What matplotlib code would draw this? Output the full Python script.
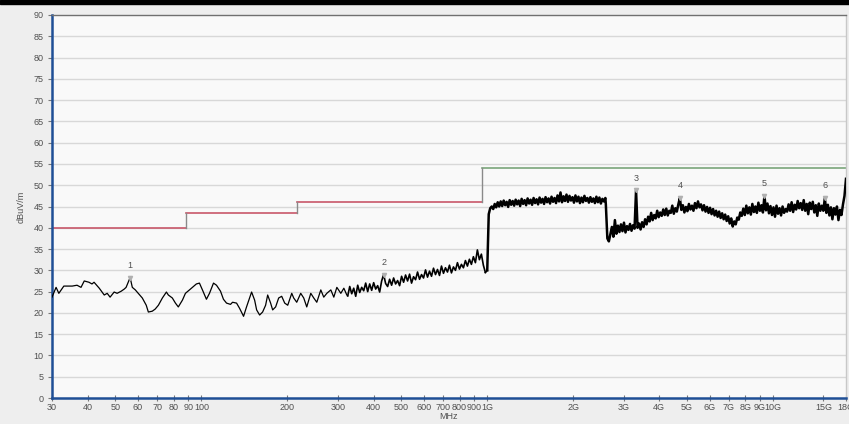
import numpy as np
import matplotlib
matplotlib.use('agg')
import matplotlib.pyplot as plt

plt.rcParams['font.family'] = ['Liberation Sans', 'DejaVu Sans']

# measured trace, 30 MHz - 320 MHz (read point by point)
low_freq = [30, 31, 31.7, 33, 35.3, 36.7, 37.9, 38.9, 40.4, 41.4,
            42.1, 43.9, 45.7, 46.8, 47.9, 49.5, 50.7, 52.4, 53.7, 54.5,
            56.3, 57.3, 58.7, 60.1, 62.1, 64.1, 65.2, 67.3, 68.9, 70.7,
            73, 75.4, 76.6, 79.1, 81.1, 83, 85.8, 87.9, 90.8, 93,
            96, 98.4, 100.8, 104.1, 106.7, 110.2, 112.9, 116.6, 119.4, 122.4,
            126.4, 128.5, 132.7, 135.9, 140.4, 143.8, 149.8, 153.5, 156, 159.8,
            163.7, 167.7, 170.5, 174.6, 177.5, 181.8, 186.3, 190.9, 195.6, 200.4,
            207, 210.3, 215.5, 222.5, 228, 233.6, 241.3, 247.2, 253.3, 261.6,
            267.9, 274.6, 283.6, 290.5, 297.7, 307.4, 315, 322.6]
low_level = [23.7, 26, 24.6, 26.3, 26.3, 26.5, 26, 27.5, 27.2, 26.8,
             27.2, 25.8, 24.2, 24.6, 23.7, 24.9, 24.6, 25.1, 25.6, 26,
             28.3, 26, 25.4, 24.6, 23.5, 21.8, 20.2, 20.4, 20.9, 21.8,
             23.5, 24.9, 24.2, 23.5, 22.3, 21.4, 23, 24.6, 25.4, 26,
             26.8, 27, 25.4, 23.2, 24.6, 27, 26.5, 25.1, 23.2, 22.3,
             22, 22.5, 22.3, 21.1, 19.2, 21.4, 24.9, 23, 20.7, 19.5,
             20.2, 21.8, 24.2, 22.3, 20.7, 21.4, 23.5, 23.9, 22.3, 21.8,
             24.6, 23.5, 22.5, 24.6, 23.5, 21.4, 24.6, 23.5, 22.5, 25.4,
             23.7, 24.6, 25.4, 23.7, 26, 24.6, 25.8, 24.2]

# 325 MHz - 985 MHz, sweep points
mid_range = (325, 985)
mid_level = [24.0, 26.2, 24.5, 25.8, 23.9, 26.5, 24.8, 26.0, 25.2, 27.0,
             25.0, 26.8, 25.3, 27.1, 25.6, 26.4, 24.9, 27.5, 29.0, 26.9,
             26.2, 27.9, 26.5, 28.2, 26.8, 27.6, 26.4, 28.6, 27.2, 28.9,
             27.5, 29.1, 27.0, 28.5, 27.8, 29.6, 27.9, 29.0, 28.2, 30.1,
             28.4, 29.8, 28.6, 30.5, 29.0, 30.2, 28.8, 31.0, 29.3, 30.6,
             29.6, 31.2, 29.4, 30.8, 30.0, 31.8, 30.3, 31.4, 30.6, 32.3,
             31.0, 32.6, 31.4, 33.2, 31.8, 34.8, 32.5, 33.8, 31.2, 29.5]

# 1 GHz - 2.59 GHz
high_range = (1000, 2590)
high_level = [30.0, 43.2, 44.6, 45.0, 44.4, 45.6, 44.8, 46.0, 45.0, 46.2,
              45.1, 46.4, 45.3, 46.1, 44.9, 46.5, 45.4, 46.3, 45.2, 46.6,
              45.5, 46.4, 45.1, 46.8, 45.6, 46.5, 45.3, 46.9, 45.7, 46.6,
              45.4, 47.0, 45.8, 46.7, 45.5, 47.1, 45.9, 46.8, 45.6, 47.2,
              46.0, 46.9, 45.7, 47.3, 46.1, 47.0, 45.8, 47.6, 46.2, 48.3,
              46.0, 47.4, 46.3, 47.8, 46.1, 47.5, 46.4, 47.2, 45.9, 47.6,
              46.2, 47.3, 45.8, 47.1, 46.0, 47.5, 46.3, 47.0, 45.9, 47.2,
              46.1, 46.9, 45.8, 47.3, 46.0, 47.1, 45.7, 46.8, 46.2, 47.0]

# 2.6 GHz - 18 GHz
top_range = (2600, 18000)
top_level = [45.5, 37.5, 36.8, 38.5, 40.2, 37.9, 41.8, 38.6, 40.5, 39.0,
             40.8, 39.2, 41.2, 38.9, 40.4, 39.5, 40.9, 39.3, 40.6, 39.8,
             48.8, 40.0, 41.0, 39.6, 41.3, 40.2, 42.0, 40.8, 42.6, 41.5,
             43.5, 41.8, 43.0, 42.2, 44.0, 42.5, 43.6, 42.8, 44.3, 43.0,
             44.5, 42.9, 44.0, 43.5, 45.2, 43.3, 44.6, 43.8, 45.5, 47.0,
             44.2, 45.3, 43.6, 44.9, 43.9, 45.6, 44.3, 45.2, 44.0, 45.8,
             44.6, 46.2, 44.8, 45.5, 44.1, 45.3, 43.8, 44.9, 43.5, 44.7,
             43.2, 44.4, 42.9, 44.0, 42.6, 43.8, 42.3, 43.4, 42.0, 43.1,
             41.6, 42.7, 41.0, 42.2, 40.3, 41.5, 40.8, 42.4, 41.9, 43.6,
             42.8, 44.5, 43.0, 45.2, 43.4, 44.8, 43.1, 45.6, 43.7, 45.0,
             43.5, 45.9, 44.0, 45.3, 43.6, 47.5, 44.1, 45.7, 43.4, 45.1,
             43.0, 44.8, 42.6, 45.2, 43.3, 44.6, 42.9, 45.0, 43.5, 44.4,
             43.8, 45.5, 44.0, 46.0, 43.7, 45.4, 44.3, 46.3, 44.6, 45.8,
             44.2, 46.5, 44.0, 45.6, 43.2, 45.9, 44.4, 46.1, 43.6, 45.3,
             42.8, 45.7, 44.0, 45.2, 44.0, 47.0, 43.5, 45.4, 42.9, 44.8,
             42.0, 44.6, 43.1, 45.0, 41.8, 44.2, 43.0, 45.5, 47.5, 51.5]

# limit line (FCC class B, 3 m)
limit_edges = [30, 88, 216, 960, 18000]
limit_values = [40, 43.5, 46, 54]

# peak markers
marker_labels = ['1', '2', '3', '4', '5', '6']
marker_freq = [56.3, 434, 3317, 4720, 9331, 15182]
marker_level = [28.3, 29.0, 48.8, 47.0, 47.5, 47.0]

tick_freq = [30, 40, 50, 60, 70, 80, 90, 100, 200, 300, 400, 500, 600, 700, 800, 900,
             1000, 2000, 3000, 4000, 5000, 6000, 7000, 8000, 9000, 10000, 15000, 18000]
tick_text = ['30', '40', '50', '60', '70', '80', '90', '100', '200', '300', '400', '500',
             '600', '700', '800', '900', '1G', '2G', '3G', '4G', '5G', '6G', '7G', '8G',
             '9G', '10G', '15G', '18G']

BLUE = '#1f4f96'
RED = '#c8586a'
GREEN = '#7aa57a'
TXT = '#505050'

mid_freq = np.geomspace(*mid_range, len(mid_level))
high_freq = np.geomspace(*high_range, len(high_level))
top_freq = np.geomspace(*top_range, len(top_level))

fig = plt.figure(figsize=(8.49, 4.24), dpi=100, facecolor='#eeeeee')
fig.add_artist(plt.Rectangle((0, 1 - 4 / 424), 1, 4 / 424, transform=fig.transFigure,
                             color='black', zorder=10))
ax = fig.add_axes([52 / 849, 26 / 424, 794 / 849, 383 / 424], facecolor='#f9f9f9')

ax.set_xscale('log')
ax.set_xlim(30, 18000)
ax.set_ylim(0, 90)

for y in range(5, 90, 5):
    ax.axhline(y, color='#d8d8d8', lw=1, zorder=1)

# limit line: horizontal parts coloured, steps grey
for i in range(len(limit_values)):
    col = RED if limit_edges[i + 1] <= 1000 else GREEN
    ax.plot(limit_edges[i:i + 2], [limit_values[i]] * 2, color=col, lw=1.2, zorder=2)
    if i > 0:
        ax.plot([limit_edges[i]] * 2, limit_values[i - 1:i + 1], color='#8a8a8a', lw=1, zorder=2)

# trace, denser sweep parts drawn heavier like the analyser plot
ax.plot(np.append(low_freq, mid_freq[0]), np.append(low_level, mid_level[0]),
        color='black', lw=0.9, zorder=3)
ax.plot(mid_freq, mid_level, color='black', lw=1.2, zorder=3)
ax.plot([mid_freq[-1], high_freq[0]], [mid_level[-1], high_level[0]], color='black', lw=1.2, zorder=3)
ax.plot(np.append(high_freq, top_freq), np.append(high_level, top_level),
        color='black', lw=1.8, zorder=3)

ax.plot(marker_freq, marker_level, linestyle='none', marker='v', ms=3,
        color='#b0b0b0', zorder=4)
for lab, f, v in zip(marker_labels, marker_freq, marker_level):
    ax.text(f, v + 1.8, lab, ha='center', va='bottom', fontsize=6.5, color=TXT, zorder=5)

ax.set_xticks(tick_freq)
ax.set_xticklabels(tick_text)
ax.xaxis.set_minor_locator(matplotlib.ticker.NullLocator())
ax.set_yticks(range(0, 91, 5))
ax.tick_params(axis='x', direction='inout', length=5, width=0.8, color='#777777',
               labelsize=6.5, labelcolor=TXT, pad=1)
ax.tick_params(axis='y', direction='out', length=3, width=0.8, color='#777777',
               labelsize=6.5, labelcolor=TXT, pad=3)

ax.set_xlabel('MHz', fontsize=6.5, color=TXT, labelpad=0)
ax.set_ylabel('dBuV/m', fontsize=6.5, color=TXT, labelpad=6)

ax.spines['left'].set_color(BLUE)
ax.spines['left'].set_linewidth(1.8)
ax.spines['bottom'].set_color(BLUE)
ax.spines['bottom'].set_linewidth(1.8)
ax.spines['top'].set_color('#707070')
ax.spines['top'].set_linewidth(1)
ax.spines['right'].set_color('#c8c8c8')
ax.spines['right'].set_linewidth(1)

fig.savefig('out.png', dpi=100, facecolor=fig.get_facecolor())
